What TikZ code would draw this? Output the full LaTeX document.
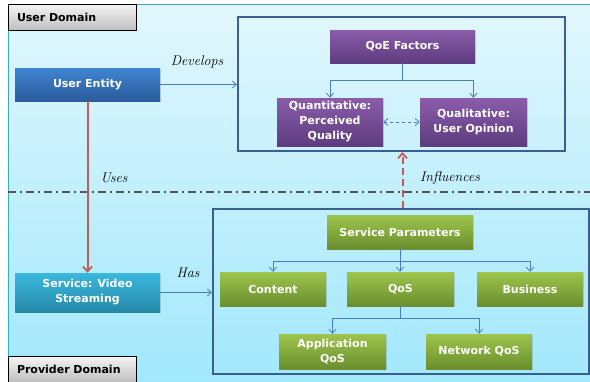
\documentclass[tikz,border=0pt]{standalone}
\usepackage{fontspec}
\setsansfont{DejaVu Sans}
\usetikzlibrary{arrows.meta,shadows}
\definecolor{bgtop}{HTML}{E2F7FD}
\definecolor{bgbot}{HTML}{A2E8FC}
\definecolor{edgeteal}{HTML}{2FAFCF}
\definecolor{contc}{HTML}{3B5F8E}
\definecolor{connc}{HTML}{4A7EBB}
\definecolor{redc}{HTML}{C55A57}
\definecolor{purtop}{HTML}{8A5CAB}
\definecolor{purbot}{HTML}{5E3C7F}
\definecolor{grtop}{HTML}{9DC54C}
\definecolor{grbot}{HTML}{6B8E2E}
\definecolor{bltop}{HTML}{3F84D2}
\definecolor{blbot}{HTML}{2A5C9C}
\definecolor{tltop}{HTML}{3AB8DE}
\definecolor{tlbot}{HTML}{2689A8}
\definecolor{dashc}{HTML}{555555}
\tikzset{
  box/.style={inner sep=2pt, align=center, text=white,
    font=\sffamily\bfseries\fontsize{11}{15}\selectfont,
    drop shadow={shadow xshift=1pt, shadow yshift=-1pt, opacity=0.25}},
  purplebox/.style={box, top color=purtop, bottom color=purbot},
  greenbox/.style={box, top color=grtop, bottom color=grbot},
  bluebox/.style={box, top color=bltop, bottom color=blbot},
  tealbox/.style={box, top color=tltop, bottom color=tlbot},
  domainlbl/.style={draw=black, line width=0.9pt, top color=white!96!black, bottom color=white!75!black,
    minimum width=128, minimum height=26, text width=110, align=left, inner sep=0pt,
    font=\sffamily\bfseries\fontsize{11}{12}\selectfont},
  container/.style={draw=contc, line width=2pt, fill=none},
  conn/.style={draw=connc, line width=0.8pt, -{Straight Barb[length=4pt,width=7pt]}},
  redarrow/.style={draw=redc, line width=2pt, -{Straight Barb[length=5pt,width=9pt,line width=1.8pt]}},
  lbl/.style={font=\itshape\fontsize{14}{16}\selectfont, inner sep=0pt}
}
\begin{document}
\begin{tikzpicture}[x=1pt,y=-1pt]
\useasboundingbox (0,0) rectangle (590,381);
\fill[white] (0,0) rectangle (590,381);
\shade[top color=bgtop, bottom color=bgbot] (8,4) rectangle (590,381);
\draw[edgeteal, line width=1pt] (8,381) -- (8,4) -- (590,4);
% dash-dot separator
\draw[dashc, line width=1.5pt, dash pattern=on 8pt off 4pt on 2pt off 4pt] (8,192) -- (590,192);
% containers
\node[container, minimum width=327, minimum height=134, inner sep=0pt] (topc) at (401.5,84) {};
\node[container, minimum width=376, minimum height=165, inner sep=0pt] (botc) at (401,291.5) {};
% domain labels
\node[domainlbl] (ud) at (72,17) {User Domain};
\node[domainlbl] (pd) at (72,369) {Provider Domain};
% left boxes
\node[bluebox, minimum width=145, minimum height=33] (ue) at (87.5,84.5) {User Entity};
\node[tealbox, minimum width=145, minimum height=39] (svc) at (87.5,292.5) {Service: Video\\Streaming};
% QoE
\node[purplebox, minimum width=145, minimum height=33] (qoe) at (402.5,46.5) {QoE Factors};
\node[purplebox, minimum width=106, minimum height=48] (quant) at (330,122) {Quantitative:\\Perceived\\Quality};
\node[purplebox, minimum width=107, minimum height=48] (qual) at (473.5,122) {Qualitative:\\User Opinion};
% service params
\node[greenbox, minimum width=146, minimum height=34] (sp) at (400,232) {Service Parameters};
\node[greenbox, minimum width=106, minimum height=34] (content) at (273,289) {Content};
\node[greenbox, minimum width=107, minimum height=34] (qos) at (400.5,289) {QoS};
\node[greenbox, minimum width=106, minimum height=34] (bus) at (530,289) {Business};
\node[greenbox, minimum width=107, minimum height=35] (app) at (332.5,351.5) {Application\\QoS};
\node[greenbox, minimum width=106, minimum height=35] (net) at (479,351.5) {Network QoS};
% connectors
\draw[conn] (qoe.south) -- ++(0,17) -| (quant.north);
\draw[conn] (qoe.south) -- ++(0,17) -| (qual.north);
\draw[conn, dashed, {Straight Barb[length=4pt,width=7pt]}-{Straight Barb[length=4pt,width=7pt]}] (quant.east) -- (qual.west);
\draw[conn] (sp.south) -- ++(0,12) -| (content.north);
\draw[conn] (sp.south) -- (qos.north -| sp.south);
\draw[conn] (sp.south) -- ++(0,12) -| (bus.north);
\draw[conn] (qos.south) -- ++(0,12) -| (app.north);
\draw[conn] (qos.south) -- ++(0,12) -| (net.north);
\draw[conn] (ue.east) -- (topc.west |- ue.east);
\draw[conn] (svc.east) -- (botc.west |- svc.east);
\draw[redarrow] (ue.south) -- (svc.north);
\draw[redarrow, dash pattern=on 7pt off 4pt] (botc.north -| qoe.south) -- (topc.south -| qoe.south);
% labels
\node[lbl] (ldev) at (197,62) {Develops};
\node[lbl] (luses) at (114,178) {Uses};
\node[lbl] (linf) at (450,178) {Influences};
\node[lbl] (lhas) at (188,273) {Has};
\end{tikzpicture}
\end{document}
